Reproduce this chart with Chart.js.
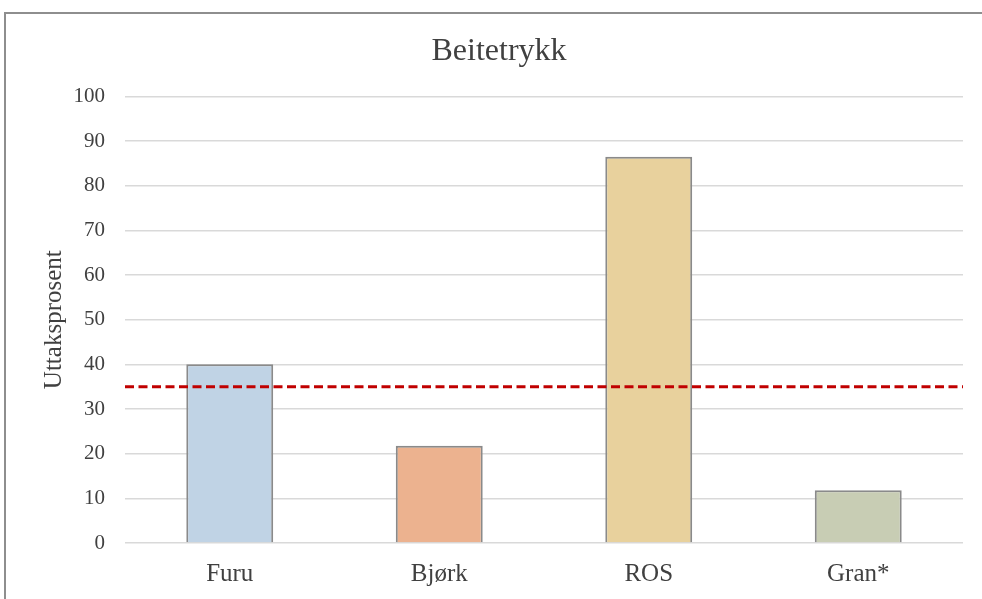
<!DOCTYPE html>
<html>
<head>
<meta charset="utf-8">
<script src="https://cdn.jsdelivr.net/npm/chart.js@4/dist/chart.umd.min.js"></script>
<style>
  html, body { margin: 0; padding: 0; background: #fff; overflow: hidden; }
  #wrap { position: relative; width: 982px; height: 599px; overflow: hidden; }
  #frame { position: absolute; left: 4px; top: 12px; width: 1000px; height: 620px;
           border-top: 2px solid #8e8e8e; border-left: 2px solid #8e8e8e; box-sizing: border-box; }
  canvas { position: absolute; left: 0; top: 0; }
</style>
</head>
<body>
<div id="wrap">
  <div id="frame"></div>
  <canvas id="c" width="982" height="599"></canvas>
</div>
<script>
// Uttaksprosent per treslag
const categories = ['Furu', 'Bjørk', 'ROS', 'Gran*'];
const uttak = [40, 21.8, 86.5, 11.8];
const barColors = ['#c0d3e5', '#ecb28f', '#e8d19d', '#c8cdb4'];
const yTicks = [0, 10, 20, 30, 40, 50, 60, 70, 80, 90, 100];
// Terskel for beitetrykk
const terskel = 35;

const SERIF = '"Liberation Serif", "Times New Roman", serif';

const thresholdLine = {
  id: 'thresholdLine',
  afterDatasetsDraw(chart) {
    const { ctx, chartArea, scales } = chart;
    const y = scales.y.getPixelForValue(terskel);
    ctx.save();
    ctx.strokeStyle = '#c00000';
    ctx.lineWidth = 3;
    ctx.setLineDash([9, 4.5]);
    ctx.beginPath();
    ctx.moveTo(chartArea.left, y);
    ctx.lineTo(chartArea.right, y);
    ctx.stroke();
    ctx.restore();
  }
};

new Chart(document.getElementById('c'), {
  type: 'bar',
  data: {
    labels: categories,
    datasets: [{
      data: uttak,
      backgroundColor: barColors,
      borderColor: '#8a8a8a',
      borderWidth: 2,
      barPercentage: 0.83,
      categoryPercentage: 0.5
    }]
  },
  options: {
    responsive: false,
    animation: false,
    layout: { padding: { left: 35, right: 19, top: 0, bottom: 0 } },
    plugins: {
      legend: { display: false },
      tooltip: { enabled: false },
      title: {
        display: true,
        text: 'Beitetrykk',
        color: '#404040',
        font: { family: SERIF, size: 32, weight: 'normal' },
        padding: { top: 32, bottom: 26 }
      }
    },
    scales: {
      x: {
        grid: { display: false, drawTicks: false },
        border: { display: false },
        ticks: { color: '#404040', font: { family: SERIF, size: 25 }, padding: 16 },
        afterFit(s) { s.height = 56; }
      },
      y: {
        min: 0, max: 100,
        afterBuildTicks(s) { s.ticks = yTicks.map(v => ({ value: v })); },
        grid: { color: '#d9d9d9', lineWidth: 1.5, drawTicks: false },
        border: { display: false },
        ticks: { color: '#404040', font: { family: SERIF, size: 21 }, padding: 20 },
        title: {
          display: true,
          text: 'Uttaksprosent',
          color: '#404040',
          font: { family: SERIF, size: 25 },
          padding: { top: 4, bottom: 4 }
        },
        afterFit(s) { s.width = 90; }
      }
    }
  },
  plugins: [thresholdLine]
});
</script>
</body>
</html>
